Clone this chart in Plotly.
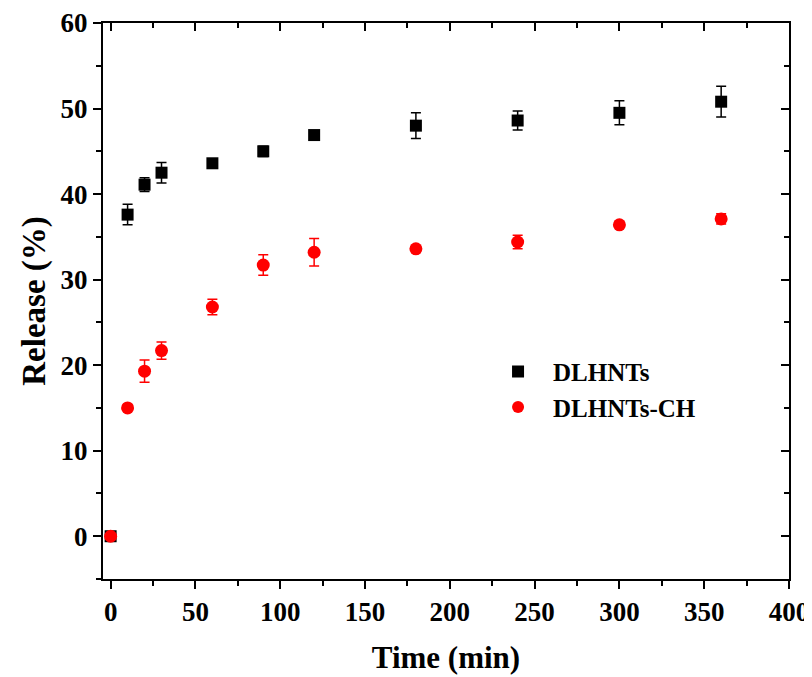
import plotly.graph_objects as go

time = [0, 10, 20, 30, 60, 90, 120, 180, 240, 300, 360]
dlhnts = [0, 37.6, 41.1, 42.5, 43.6, 45.0, 46.9, 48.0, 48.6, 49.5, 50.8]
dlhnts_err = [0, 1.2, 0.8, 1.2, 0.3, 0.6, 0.4, 1.5, 1.1, 1.4, 1.8]
dlhnts_ch = [0, 15.0, 19.3, 21.7, 26.8, 31.7, 33.2, 33.6, 34.4, 36.4, 37.1]
dlhnts_ch_err = [0, 0.3, 1.3, 1.0, 0.9, 1.2, 1.6, 0.3, 0.8, 0.3, 0.6]

font_family = "Liberation Serif"

fig = go.Figure()
fig.add_trace(go.Scatter(
    x=time, y=dlhnts, mode="markers", name="DLHNTs",
    marker=dict(symbol="square", size=12, color="black"),
    error_y=dict(type="data", array=dlhnts_err, color="black", thickness=1.5, width=5),
))
fig.add_trace(go.Scatter(
    x=time, y=dlhnts_ch, mode="markers", name="DLHNTs-CH",
    marker=dict(symbol="circle", size=13, color="red"),
    error_y=dict(type="data", array=dlhnts_ch_err, color="red", thickness=1.5, width=5),
))
# invisible helper trace so the top/right (inside-tick) axes are drawn
fig.add_trace(go.Scatter(
    x=time[:1], y=dlhnts[:1], xaxis="x2", yaxis="y2", mode="markers",
    marker=dict(opacity=0), showlegend=False, hoverinfo="skip",
))

axis_common = dict(showgrid=False, zeroline=False, linecolor="black", linewidth=2,
                   tickcolor="black", tickwidth=2, automargin=False)
tickfont = dict(size=27, family=font_family, weight="bold")

fig.update_layout(
    width=812, height=677,
    margin=dict(l=95, r=31, t=15, b=106),
    plot_bgcolor="white", paper_bgcolor="white",
    font=dict(family=font_family, color="black"),
    xaxis=dict(range=[-4.5, 400], dtick=50, tick0=0, ticks="outside", ticklen=8,
               showline=True, mirror=True, tickfont=tickfont,
               minor=dict(dtick=25, tick0=0, ticks="outside", ticklen=5, tickcolor="black", tickwidth=2),
               title=dict(text="Time (min)", font=dict(size=31, family=font_family, weight="bold"), standoff=20),
               **axis_common),
    yaxis=dict(range=[-5, 60], dtick=10, tick0=0, ticks="outside", ticklen=8,
               showline=True, mirror=True, tickfont=tickfont,
               minor=dict(dtick=5, tick0=0, ticks="outside", ticklen=5, tickcolor="black", tickwidth=2),
               title=dict(text="Release (%)", font=dict(size=33, family=font_family, weight="bold"), standoff=5),
               **axis_common),
    xaxis2=dict(range=[-4.5, 400], dtick=50, tick0=0, ticks="inside", ticklen=8,
                overlaying="x", side="top", anchor="y2", showticklabels=False, showline=False,
                minor=dict(dtick=25, tick0=0, ticks="inside", ticklen=5, tickcolor="black", tickwidth=2),
                showgrid=False, zeroline=False, tickcolor="black", tickwidth=2, automargin=False),
    yaxis2=dict(range=[-5, 60], dtick=10, tick0=0, ticks="inside", ticklen=8,
                overlaying="y", side="right", anchor="x2", showticklabels=False, showline=False,
                minor=dict(dtick=5, tick0=0, ticks="inside", ticklen=5, tickcolor="black", tickwidth=2),
                showgrid=False, zeroline=False, tickcolor="black", tickwidth=2, automargin=False),
    legend=dict(x=0.554, y=0.414, xanchor="left", yanchor="top",
                bgcolor="rgba(0,0,0,0)", borderwidth=0,
                font=dict(size=25, family=font_family, weight="bold"),
                itemsizing="constant", itemwidth=60, tracegroupgap=0),
    showlegend=True,
)

fig.write_html("out.html")
